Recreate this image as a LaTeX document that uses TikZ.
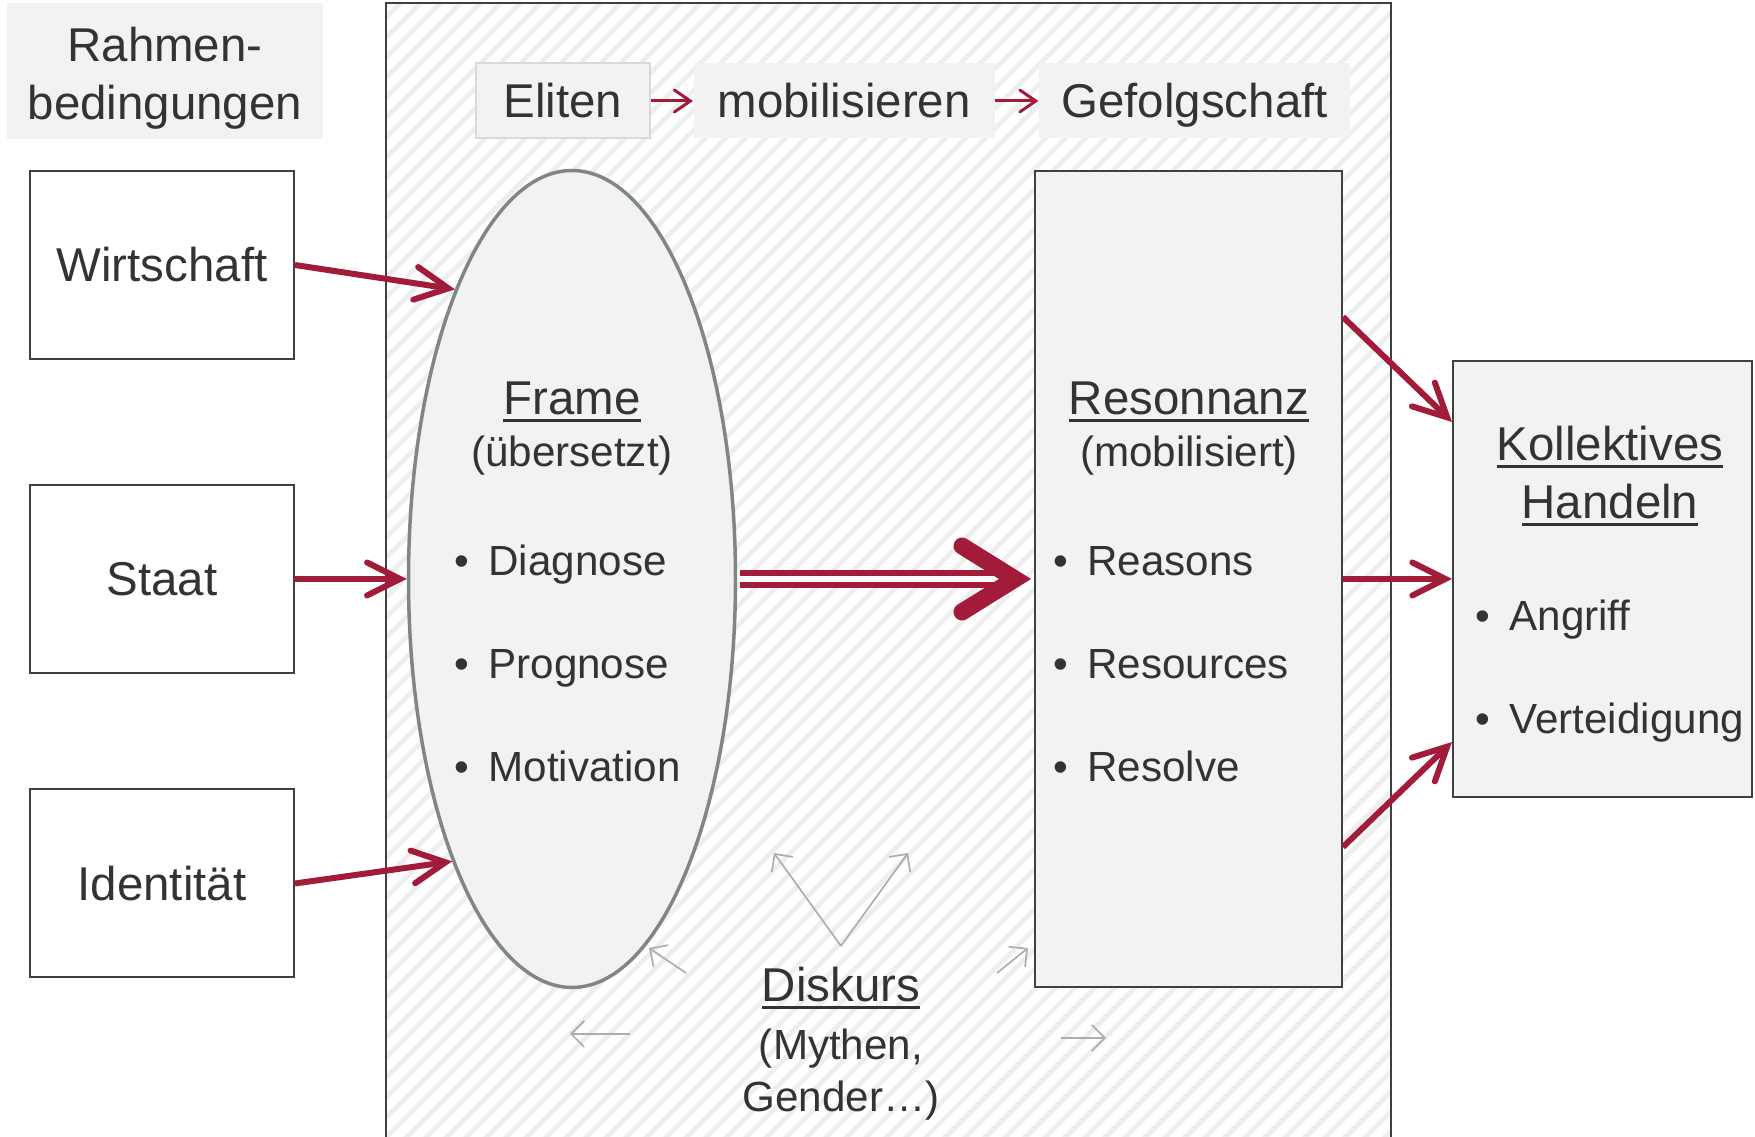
\documentclass[tikz,border=0pt]{standalone}
\usepackage{fontspec}
\setmainfont{Liberation Sans}
\usetikzlibrary{
  arrows.meta,
  shapes.geometric,
  positioning,
  patterns.meta
}
\definecolor{dgText}{HTML}{333333}
\definecolor{dgRed}{HTML}{A21C3A}
\definecolor{dgGray}{HTML}{A9AEB1}
\definecolor{dgRim}{HTML}{7F8689}
\definecolor{dgFill}{HTML}{F2F2F2}
\definecolor{dgLine}{HTML}{404040}
\definecolor{dgHatch}{HTML}{EEEEEE}
\definecolor{dgPale}{HTML}{D9D9D9}
\newcommand{\dgfont}{\fontsize{13.5pt}{16.5pt}\selectfont}
\newcommand{\subfont}{\fontsize{12pt}{14.5pt}\selectfont}
\newcommand{\bul}{\textbullet\hspace{1.9mm}}
\newcommand{\undl}[1]{\setbox0\hbox{#1}\rlap{\rule[-2.1pt]{\wd0}{0.85pt}}\box0}
\tikzset{
  lab/.style={inner sep=0pt, font=\dgfont, text=dgText},
  cond/.style={lab, draw=dgLine, line width=0.2mm, minimum width=26.4mm,
    minimum height=18.8mm, text height=3.4mm, text depth=0pt},
  stage/.style={lab, fill=dgFill, minimum height=7.5mm, text height=3.4mm, text depth=0pt},
  panel/.style={lab, fill=dgFill, draw=dgLine, line width=0.2mm},
  title/.style={lab, anchor=base},
  sub/.style={lab, anchor=base, font=\subfont},
  item/.style={lab, anchor=base west, font=\subfont},
  push/.style={-{Straight Barb[length=3.3mm, width=3.3mm, line cap=round]}, line width=0.6mm, dgRed},
  nudge/.style={-{Straight Barb[length=1.6mm, width=2.2mm, line cap=round]}, line width=0.3mm, dgRed},
  hint/.style={-{Straight Barb[length=1.3mm, width=2.6mm]}, line width=0.17mm, dgGray},
  bigshaft/.style={draw=dgRed, line width=0.6mm, double=white, double distance=0.6mm},
  bighead/.style={dgRed, line width=1.7mm, line cap=round, line join=miter}
}

\begin{document}
\begin{tikzpicture}[x=0.1mm, y=-0.1mm]
  \useasboundingbox (0,0) rectangle (1755,1137);
  % hatched field in the middle
  \fill[pattern={Lines[angle=45, distance=1.4mm, line width=0.5mm]}, pattern color=dgHatch]
    (386,3) rectangle (1391,1137);
  \draw[dgLine, line width=0.2mm] (386,1137) |- (1391,3) -- (1391,1137);

  % conditions on the left
  \fill[dgFill] (7,3) rectangle (323,139);
  \node[lab, align=center] (rahmen) at (165,78) {Rahmen-\\bedingungen};
  \node[cond] (wirt) at (162,265) {Wirtschaft};
  \node[cond] (staat) at (162,579) {Staat};
  \node[cond] (ident) at (162,883.5) {Identität};

  % top chain
  \node[stage, draw=dgPale, line width=0.2mm, minimum width=17.4mm] (elite) at (563,101) {Eliten};
  \node[stage, minimum width=30.1mm, right=4.2mm of elite] (mobil) {mobilisieren};
  \node[stage, minimum width=31.1mm, right=4.3mm of mobil] (gefolg) {Gefolgschaft};
  \draw[nudge] (elite.east) -- (mobil.west);
  \draw[nudge] (mobil.east) -- (gefolg.west);

  % frame, resonance, action
  \node[lab, ellipse, draw=dgRim, line width=0.35mm, fill=dgFill,
    minimum width=32.7mm, minimum height=81.7mm] (frame) at (572,579) {};
  \node[panel, minimum width=30.7mm, minimum height=81.6mm] (reso) at (1188.5,579) {};
  \node[panel, minimum width=29.9mm, minimum height=43.6mm] (koll) at (1602.5,579) {};

  \node[title] (frameT) at (572,415) {\undl{Frame}};
  \node[sub] (frameS) at (572,467) {(übersetzt)};
  \node[item] (diag) at (454,576) {\bul Diagnose};
  \node[item] (prog) at (454,679) {\bul Prognose};
  \node[item] (moti) at (454,782) {\bul Motivation};

  \node[title] (resoT) at (1189,415) {\undl{Resonnanz}};
  \node[sub] (resoS) at (1189,467) {(mobilisiert)};
  \node[item] (reas) at (1053,576) {\bul Reasons};
  \node[item] (reso1) at (1053,679) {\bul Resources};
  \node[item] (reso2) at (1053,782) {\bul Resolve};

  \node[lab, align=center] (kollT) at (1610,476) {\undl{Kollektives}\\\undl{Handeln}};
  \node[item] (angr) at (1475,631) {\bul Angriff};
  \node[item] (vert) at (1475,734) {\bul Verteidigung};

  % red arrows
  \draw[push] (wirt.east) -- (frame.112.6);
  \draw[push] (staat.east) -- (frame.west);
  \draw[push] (ident.east) -- (frame.247.5);
  \draw[push] ([yshift=26.2mm]reso.east) -- ([yshift=15.7mm]koll.west);
  \draw[push] (reso.east) -- (koll.west);
  \draw[push] ([yshift=-26.8mm]reso.east) -- ([yshift=-16.3mm]koll.west);
  \draw[bigshaft, shorten <=0.3mm, shorten >=2.8mm] (frame.east) -- (reso.west);
  \draw[bighead] ([shift={(-7.2mm,3.3mm)}]reso.west) -- ([xshift=-1.9mm]reso.west)
    -- ([shift={(-7.2mm,-3.3mm)}]reso.west);

  % discourse
  \node[title] (disk) at (841,1002) {\undl{Diskurs}};
  \node[sub] (diskA) at (841,1060) {(Mythen,};
  \node[sub] (diskB) at (841,1112) {Gender…)};
  \coordinate (vtip) at (841,946);
  \coordinate (vleft) at (774,853);
  \coordinate (vright) at (908,853);
  \coordinate (dl0) at (686,973);
  \coordinate (dl1) at (649,948);
  \coordinate (dr0) at (997,973);
  \coordinate (dr1) at (1028,948);
  \coordinate (hl0) at (630,1034);
  \coordinate (hl1) at (570,1034);
  \coordinate (hr0) at (1061,1038);
  \coordinate (hr1) at (1106,1038);
  \draw[hint] (vtip) -- (vleft);
  \draw[hint] (vtip) -- (vright);
  \draw[hint] (dl0) -- (dl1);
  \draw[hint] (dr0) -- (dr1);
  \draw[hint] (hl0) -- (hl1);
  \draw[hint] (hr0) -- (hr1);
\end{tikzpicture}
\end{document}
